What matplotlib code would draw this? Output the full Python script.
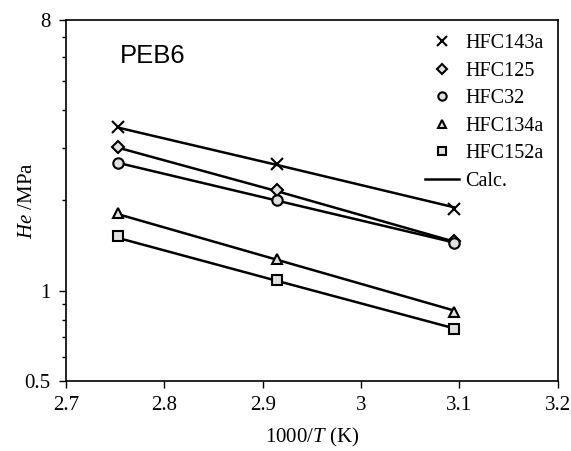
import numpy as np
import matplotlib.pyplot as plt
from matplotlib.lines import Line2D
from matplotlib.ticker import FixedLocator, NullFormatter

plt.rcParams['font.family'] = ['Liberation Serif', 'DejaVu Serif']
plt.rcParams['mathtext.fontset'] = 'custom'
plt.rcParams['mathtext.rm'] = 'Liberation Serif'
plt.rcParams['mathtext.it'] = 'Liberation Serif:italic'

# 1000/T for the three temperatures
inv_t = [2.753, 2.914, 3.094]

names = ['HFC143a', 'HFC125', 'HFC32', 'HFC134a', 'HFC152a']
he_exp = {
    'HFC143a': [3.52, 2.65, 1.87],
    'HFC125': [3.02, 2.17, 1.47],
    'HFC32': [2.67, 2.01, 1.44],
    'HFC134a': [1.82, 1.28, 0.85],
    'HFC152a': [1.52, 1.09, 0.745],
}
he_calc = {
    'HFC143a': [3.50, 2.63, 1.90],
    'HFC125': [3.00, 2.15, 1.46],
    'HFC32': [2.67, 2.00, 1.45],
    'HFC134a': [1.80, 1.27, 0.86],
    'HFC152a': [1.50, 1.08, 0.75],
}
markers = {'HFC143a': 'x', 'HFC125': 'D', 'HFC32': 'o', 'HFC134a': '^', 'HFC152a': 's'}
msizes = {'HFC143a': 8, 'HFC125': 6.5, 'HFC32': 7.5, 'HFC134a': 7.5, 'HFC152a': 7.5}

fig = plt.figure(figsize=(5.71, 4.51), dpi=100)
ax = fig.add_axes([0.1156, 0.1552, 0.8614, 0.8005])

handles = []
for n in names:
    ax.plot(inv_t, he_calc[n], color='black', lw=1.8, zorder=2)
    ax.plot(inv_t, he_exp[n], ls='none', marker=markers[n], ms=msizes[n],
            mfc='#e0e0e0', mec='black', mew=1.5, zorder=3)
    handles.append(Line2D([], [], ls='none', marker=markers[n], ms=msizes[n] - 1.5,
                          mfc='#e0e0e0', mec='black', mew=1.5, label=n))
handles.append(Line2D([], [], color='black', lw=1.8, label='Calc.'))

ax.set_yscale('log')
ax.set_xlim(2.7, 3.2)
ax.set_ylim(0.5, 8)
ax.set_xticks([2.7, 2.8, 2.9, 3.0, 3.1, 3.2])
ax.set_xticklabels(['2.7', '2.8', '2.9', '3', '3.1', '3.2'])
ax.yaxis.set_major_locator(FixedLocator([0.5, 1, 8]))
ax.set_yticklabels(['0.5', '1', '8'])
ax.yaxis.set_minor_locator(FixedLocator([0.6, 0.7, 0.8, 0.9, 2, 3, 4, 5, 6, 7]))
ax.yaxis.set_minor_formatter(NullFormatter())
ax.tick_params(axis='both', which='major', direction='out', length=5, width=1, labelsize=15, pad=6)
ax.tick_params(axis='y', which='minor', direction='out', length=3, width=1)
for s in ax.spines.values():
    s.set_linewidth(1.2)

ax.set_xlabel(r'1000/$T$ (K)', fontsize=15, labelpad=8)
ax.set_ylabel(r'$He$ /MPa', fontsize=15)
ax.yaxis.set_label_coords(-0.058, 0.5)

ax.text(0.11, 0.9, 'PEB6', transform=ax.transAxes, fontsize=18.5,
        family=['Liberation Sans', 'DejaVu Sans'], va='center')

ax.legend(handles=handles, loc='upper right', frameon=False, fontsize=14.5,
          handlelength=1.7, handletextpad=0.3, labelspacing=0.42,
          borderaxespad=0.3)

fig.savefig('out.png', dpi=100)
